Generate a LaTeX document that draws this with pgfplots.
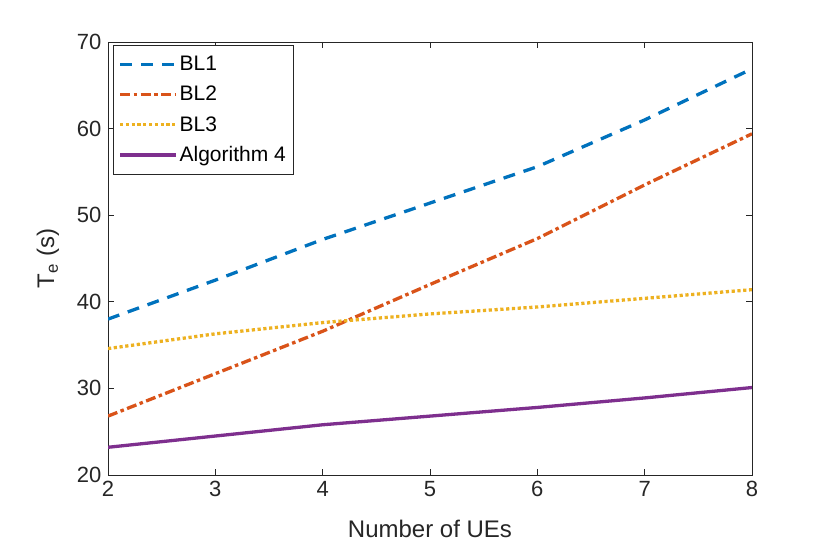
\documentclass[border=0pt]{standalone}
\usepackage{fontspec}
\setmainfont{Liberation Sans}
\usepackage{pgfplots}
\pgfplotsset{compat=1.18}
\definecolor{c1}{rgb}{0,0.447,0.741}
\definecolor{c2}{rgb}{0.85,0.325,0.098}
\definecolor{c3}{rgb}{0.929,0.694,0.125}
\definecolor{c4}{rgb}{0.494,0.184,0.556}
\definecolor{axgray}{rgb}{0.15,0.15,0.15}
\begin{document}
\begin{tikzpicture}[x=1pt,y=1pt]
\path[use as bounding box] (0,0) rectangle (830,546);
\begin{axis}[
  at={(108pt,71pt)}, anchor=south west,
  scale only axis, width=644pt, height=433pt,
  xmin=2, xmax=8, ymin=20, ymax=70,
  xtick={2,3,4,5,6,7,8}, ytick={20,30,40,50,60,70},
  tick align=inside, major tick length=6pt,
  axis line style={axgray, line width=0.6pt},
  tick style={axgray, line width=0.6pt},
  every tick label/.append style={font=\fontsize{22}{26}\selectfont, text=axgray},
  xticklabel style={yshift=-3pt},
  yticklabel style={xshift=-3pt},
  /pgf/number format/assume math mode=true,
  xlabel={Number of UEs}, ylabel={T\textsubscript{e} (s)},
  label style={font=\fontsize{24}{28}\selectfont, text=axgray},
  xlabel style={yshift=-16pt},
  ylabel style={yshift=11pt},
  legend style={at={(0.008,0.993)}, anchor=north west, draw=axgray,
    font=\fontsize{21}{24}\selectfont, row sep=10pt, inner xsep=5pt, inner ysep=9pt},
  legend cell align=left,
  legend image code/.code={\draw[#1, line width=3.3pt] (0pt,0pt) -- (56pt,0pt);},
]
\addplot[c1, line width=3.3pt, dash pattern=on 12pt off 9pt] coordinates {
(2,38.0) (3,42.5) (4,47.2) (5,51.4) (6,55.6) (7,61.0) (8,66.9)};
\addlegendentry{BL1}
\addplot[c2, line width=3.3pt, dash pattern=on 10pt off 3.5pt on 3.5pt off 3.5pt] coordinates {
(2,26.8) (3,31.7) (4,36.6) (5,42.0) (6,47.3) (7,53.5) (8,59.4)};
\addlegendentry{BL2}
\addplot[c3, line width=3.3pt, dash pattern=on 3.2pt off 2.6pt] coordinates {
(2,34.6) (3,36.3) (4,37.6) (5,38.6) (6,39.4) (7,40.4) (8,41.4)};
\addlegendentry{BL3}
\addplot[c4, line width=3.3pt] coordinates {
(2,23.2) (3,24.5) (4,25.8) (5,26.8) (6,27.8) (7,28.9) (8,30.1)};
\addlegendentry{Algorithm 4}
\end{axis}
\end{tikzpicture}
\end{document}
